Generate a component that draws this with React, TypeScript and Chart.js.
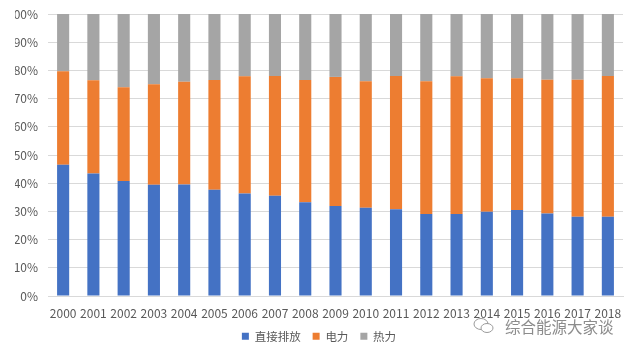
import React, { useEffect, useRef } from "react";
import { Chart, registerables } from "chart.js";

Chart.register(...registerables);

const years = ["2000","2001","2002","2003","2004","2005","2006","2007","2008","2009","2010","2011","2012","2013","2014","2015","2016","2017","2018"];
// share of direct emissions (%)
const directShare = [46.6, 43.5, 40.8, 39.5, 39.6, 37.7, 36.4, 35.6, 33.3, 31.9, 31.3, 30.8, 29.1, 29.1, 29.9, 30.5, 29.3, 28.1, 28.1];
// cumulative top of electricity segment (%)
const electricTop = [79.7, 76.5, 74.0, 75.1, 76.0, 76.6, 77.9, 78.0, 76.6, 77.7, 76.2, 78.0, 76.2, 77.9, 77.2, 77.2, 76.7, 76.7, 78.0];
const electricShare = electricTop.map((t, i) => +(t - directShare[i]).toFixed(1));
const heatShare = electricTop.map((t) => +(100 - t).toFixed(1));

const seriesNames = ["直接排放", "电力", "热力"];
const seriesColors = ["#4472C4", "#ED7D31", "#A5A5A5"];

const FONT = "'Noto Sans CJK SC', 'Noto Sans', sans-serif";

const legendShift = {
  id: "legendShift",
  afterLayout(chart: any) {
    const lg = chart.legend;
    if (lg) {
      lg.top -= 12;
      lg.bottom -= 12;
    }
  },
};

export default function App() {
  const ref = useRef<HTMLCanvasElement | null>(null);
  useEffect(() => {
    document.body.style.margin = "0";
    const ctx = ref.current!;
    const chart = new Chart(ctx, {
      type: "bar",
      data: {
        labels: years,
        datasets: [directShare, electricShare, heatShare].map((d, i) => ({
          label: seriesNames[i],
          data: d,
          backgroundColor: seriesColors[i],
          borderWidth: 0,
          categoryPercentage: 1,
          barPercentage: 0.4,
        })),
      },
      plugins: [legendShift],
      options: {
        animation: false,
        responsive: false,
        maintainAspectRatio: false,
        layout: { padding: { top: 0, right: 12, bottom: -10, left: 15 } },
        plugins: {
          legend: {
            position: "bottom",
            labels: {
              boxWidth: 7,
              boxHeight: 7,
              padding: 12,
              color: "#595959",
              font: { family: FONT, size: 11.5 },
            },
          },
          tooltip: { enabled: false },
        },
        scales: {
          x: {
            stacked: true,
            grid: { display: false, drawTicks: false },
            border: { display: true, color: "#D9D9D9" },
            ticks: { color: "#595959", font: { family: FONT, size: 12 }, padding: 10, maxRotation: 0, autoSkip: false },
          },
          y: {
            stacked: true,
            min: 0,
            max: 100,
            grid: { color: "#D9D9D9", drawTicks: false },
            border: { display: false },
            afterFit: (s: any) => { s.width = 33; s.paddingTop = 14; },
            ticks: {
              stepSize: 10,
              color: "#595959",
              padding: 10,
              font: { family: FONT, size: 12 },
              callback: (v: any) => v + "%",
            },
          },
        },
      },
    });
    return () => chart.destroy();
  }, []);

  return (
    <div style={{ position: "relative", width: 635, height: 354, background: "#fff" }}>
      <canvas ref={ref} width={635} height={354} style={{ display: "block" }} />
      <div style={{ position: "absolute", left: 473, top: 315, display: "flex", alignItems: "center", color: "#8c8c8c", fontFamily: FONT, fontSize: 15.5 }}>
        <svg width="22" height="18" viewBox="0 0 22 18" style={{ marginRight: 10 }}>
          <ellipse cx="8" cy="7" rx="7" ry="5.5" fill="none" stroke="#9a9a9a" strokeWidth="1" />
          <ellipse cx="14" cy="11" rx="6" ry="4.5" fill="#fff" stroke="#9a9a9a" strokeWidth="1" />
        </svg>
        <span>综合能源大家谈</span>
      </div>
    </div>
  );
}
